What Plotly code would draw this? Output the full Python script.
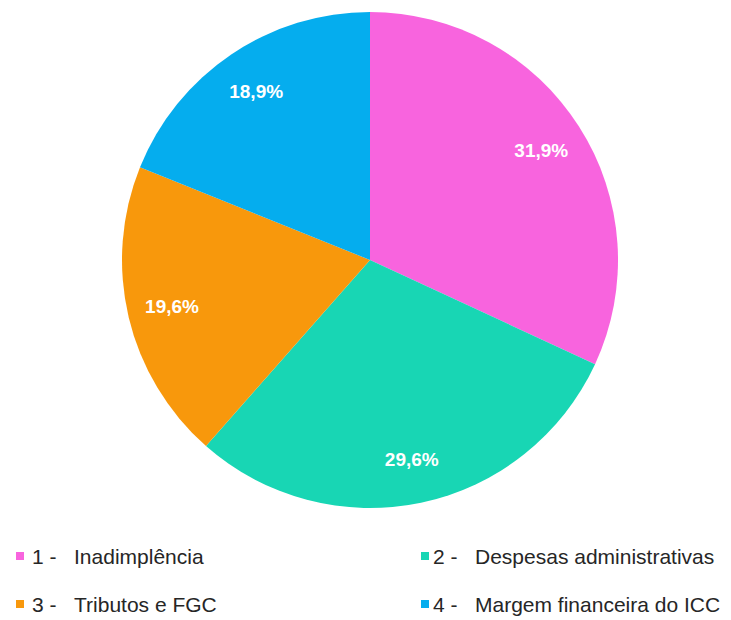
import plotly.graph_objects as go

# Composition of the spread (percent of total)
gap = "\u00a0" * 2
labels = ["1 - " + gap + "Inadimplência", "2 - " + gap + "Despesas administrativas",
          "3 - " + gap + "Tributos e FGC", "4 - " + gap + "Margem financeira do ICC"]
values = [31.9, 29.6, 19.6, 18.9]
colors = ["#F864DE", "#18D6B4", "#F8980C", "#05ADEE"]

W, H = 731, 620
FONT = "Liberation Sans, Arial, sans-serif"

pie_domain = dict(x=[122 / W, 618 / W], y=[1 - 508 / H, 1 - 12 / H])

fig = go.Figure()

# Filled slices
fig.add_trace(go.Pie(
    labels=labels, values=values, sort=False, direction="clockwise",
    marker=dict(colors=colors, line=dict(width=0)),
    textinfo="none", hoverinfo="label+percent", showlegend=False,
    domain=pie_domain,
))

# Percentage labels placed in the outer ring of the slices
fig.add_trace(go.Pie(
    labels=labels, values=values, sort=False, direction="clockwise",
    hole=0.64,
    marker=dict(colors=["rgba(0,0,0,0)"] * len(values), line=dict(width=0)),
    texttemplate="%{percent:.1%}", textposition="inside",
    insidetextorientation="horizontal",
    textfont=dict(family=FONT, size=19, color="white", weight="bold"),
    hoverinfo="skip", showlegend=False,
    domain=pie_domain,
))

# Two-column legend below the pie
sq_x = [16, 421]
txt_x = [30, 431]
row_y = [556, 604]
sq = 8
for i, (lab, col) in enumerate(zip(labels, colors)):
    c = i % 2
    cy = row_y[i // 2]
    fig.add_shape(type="rect", xref="paper", yref="paper",
                  x0=sq_x[c] / W, x1=(sq_x[c] + sq) / W,
                  y0=1 - (cy + sq / 2) / H, y1=1 - (cy - sq / 2) / H,
                  fillcolor=col, line=dict(width=0))
    fig.add_annotation(x=txt_x[c] / W, y=1 - cy / H, xref="paper", yref="paper",
                       xanchor="left", yanchor="middle", showarrow=False,
                       text=lab, font=dict(family=FONT, size=21, color="#262626"))

fig.update_layout(
    width=W, height=H,
    margin=dict(l=0, r=0, t=0, b=0),
    paper_bgcolor="white", plot_bgcolor="white",
    separators=",.",
    showlegend=False,
)

fig.write_html("out.html")
